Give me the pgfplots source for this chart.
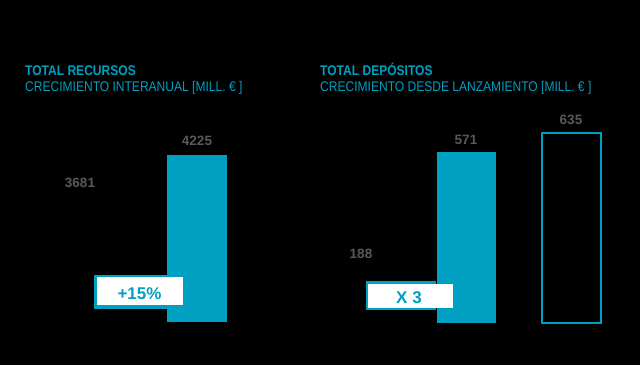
\documentclass[border=0pt]{standalone}
\usepackage{fontspec}
\setmainfont{Liberation Sans}
\newfontfamily\condfont{Liberation Sans}[FakeStretch=0.86]
\usepackage{pgfplots}
\pgfplotsset{compat=1.18}
\definecolor{teal}{HTML}{00A0C2}
\definecolor{lbl}{HTML}{595959}
\begin{document}
\begin{tikzpicture}[x=1pt,y=1pt]
\fill[black] (0,0) rectangle (640,365);
\useasboundingbox (0,0) rectangle (640,365);
% titles
\node[anchor=base west,inner sep=0,text=teal,font=\condfont\bfseries\fontsize{14}{16}\selectfont] at (25,290) {TOTAL RECURSOS};
\node[anchor=base west,inner sep=0,text=teal,font=\condfont\fontsize{14}{16}\selectfont] at (25,273) {CRECIMIENTO INTERANUAL [MILL. € ]};
\node[anchor=base west,inner sep=0,text=teal,font=\condfont\bfseries\fontsize{14}{16}\selectfont] at (320,290) {TOTAL DEPÓSITOS};
\node[anchor=base west,inner sep=0,text=teal,font=\condfont\fontsize{14}{16}\selectfont] at (320,273) {CRECIMIENTO DESDE LANZAMIENTO [MILL. € ]};
% left chart
\begin{axis}[at={(21.5pt,43pt)},anchor=south west,scale only axis,
  width=234pt,height=224.7pt,hide axis,
  xmin=-0.5,xmax=1.5,ymin=2060,ymax=4973,
  ybar,bar width=60pt,
  nodes near coords={\pgfmathprintnumber[fixed,precision=0,1000 sep={},assume math mode=true]{\pgfplotspointmeta}},
  every node near coord/.append style={font=\bfseries\fontsize{13.5}{15}\selectfont,text=lbl,anchor=south,inner sep=0pt,yshift=9pt}]
\addplot[fill=black,draw=none,bar shift=0pt] coordinates {(0,3681)};
\addplot[fill=teal,draw=none,bar shift=0pt] coordinates {(1,4225)};
\end{axis}
% right chart
\begin{axis}[at={(308.5pt,42pt)},anchor=south west,scale only axis,
  width=315pt,height=224.6pt,hide axis,
  xmin=-0.5,xmax=2.5,ymin=0,ymax=750,
  ybar,bar width=59pt,
  nodes near coords={\pgfmathprintnumber[fixed,precision=0,1000 sep={},assume math mode=true]{\pgfplotspointmeta}},
  every node near coord/.append style={font=\bfseries\fontsize{13.5}{15}\selectfont,text=lbl,anchor=south,inner sep=0pt,yshift=7.5pt}]
\addplot[fill=black,draw=none,bar shift=0pt] coordinates {(0,188)};
\addplot[fill=teal,draw=none,bar shift=0pt] coordinates {(1,571)};
\addplot[fill=black,draw=teal,line width=2pt,bar shift=0pt] coordinates {(2,635)};
\end{axis}
% callouts
\fill[teal] (94,56) rectangle (167,90);
\fill[white] (97,60) rectangle (183,88);
\node[text=teal,font=\bfseries\fontsize{17}{19}\selectfont] at (139.5,71.5) {+15\%};
\fill[teal] (366,55) rectangle (436,84);
\fill[white] (368,57) rectangle (453,81);
\node[text=teal,font=\bfseries\fontsize{17}{19}\selectfont] at (409,67.5) {X 3};
\end{tikzpicture}
\end{document}
